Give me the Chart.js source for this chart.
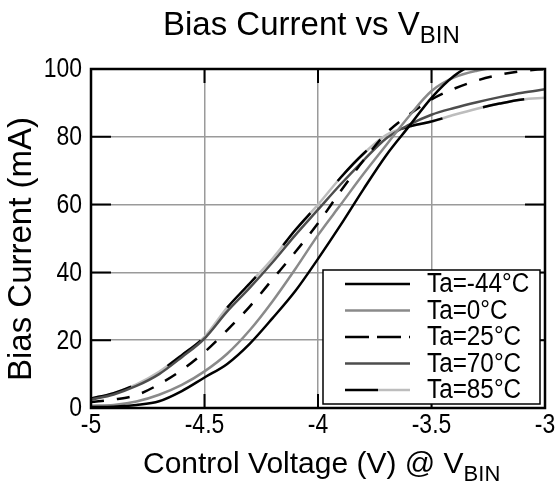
<!DOCTYPE html>
<html>
<head>
<meta charset="utf-8">
<script src="https://cdn.jsdelivr.net/npm/chart.js@4.4.0/dist/chart.umd.min.js"></script>
<style>
    html, body { margin: 0; padding: 0; background: #fff; }
    #wrap { width: 557px; height: 488px; }
</style>
</head>
<body>
<div id="wrap"><canvas id="ChartBias"></canvas></div>
<script>
// control voltage (V) at V_BIN
var voltage = [-5.0, -4.9, -4.8, -4.7, -4.6, -4.5, -4.4, -4.3, -4.2, -4.1, -4.0,
               -3.9, -3.8, -3.7, -3.6, -3.5, -3.4, -3.3, -3.2, -3.1, -3.0];

// bias current (mA) per temperature
var taMinus44 = [0.3, 0.4, 0.9, 2.0, 5.0, 9.0, 13.0, 19.0, 26.5, 34.5, 44.0,
                 54.0, 64.5, 74.5, 83.0, 91.5, 98.0, 102.0, 104.5, null, null];
var ta0 = [0.7, 0.9, 1.9, 3.9, 6.8, 10.8, 16.0, 23.0, 31.5, 41.0, 51.0,
           60.0, 69.0, 77.5, 86.0, 93.5, 97.5, 99.5, 100.6, 101.5, 102.0];
var ta25 = [1.8, 2.5, 3.8, 7.0, 11.2, 16.5, 23.0, 30.0, 38.0, 46.0, 54.5,
            64.0, 73.0, 81.0, 86.5, 91.0, 94.2, 96.6, 98.3, 99.4, 100.0];
var ta70 = [2.5, 4.0, 6.5, 10.0, 15.0, 20.5, 28.5, 35.5, 43.0, 51.0, 58.5,
            66.0, 73.0, 79.5, 83.5, 86.5, 88.5, 90.2, 91.7, 93.0, 94.0];
var ta85 = [2.8, 4.4, 7.0, 10.7, 15.6, 21.0, 29.6, 36.8, 44.1, 52.5, 60.0,
            68.0, 75.0, 80.5, 83.0, 84.5, 86.5, 88.3, 89.8, 91.0, 91.5];

var seriesLabels = ['Ta=-44°C', 'Ta=0°C', 'Ta=25°C', 'Ta=70°C', 'Ta=85°C'];
var xTicks = [-5, -4.5, -4, -3.5, -3];
var yTicks = [0, 20, 40, 60, 80, 100];

var FONT = '"Liberation Sans", Arial, sans-serif';

function toPoints(values) {
    var pts = [];
    for (var i = 0; i < voltage.length; i++) {
        pts.push({ x: voltage[i], y: values[i] });
    }
    return pts;
}

function makeSet(label, values, color, dash) {
    return {
        label: label,
        data: toPoints(values),
        borderColor: color,
        borderWidth: 2.5,
        borderDash: dash || [],
        pointRadius: 0,
        fill: false,
        cubicInterpolationMode: 'monotone',
        spanGaps: false
    };
}

// text squeezed sideways, the source uses a narrow face
function narrowText(ctx, text, x, y, size, align, squeeze) {
    ctx.save();
    ctx.font = size + 'px ' + FONT;
    ctx.textAlign = align;
    ctx.textBaseline = 'middle';
    ctx.translate(x, y);
    ctx.scale(squeeze, 1);
    ctx.fillText(text, 0, 0);
    ctx.restore();
}

function drawSubText(ctx, main, sub, x, baseline, size, subSize) {
    ctx.textAlign = 'left';
    ctx.textBaseline = 'alphabetic';
    ctx.font = size + 'px ' + FONT;
    var w1 = ctx.measureText(main).width;
    ctx.fillText(main, x, baseline);
    ctx.font = subSize + 'px ' + FONT;
    ctx.fillText(sub, x + w1, baseline + size * 0.25);
}

var decorPlugin = {
    id: 'decor',
    afterDraw: function (chart) {
        var ctx = chart.ctx;
        var a = chart.chartArea;
        var xs = chart.scales.x;
        var ys = chart.scales.y;
        ctx.save();
        ctx.fillStyle = '#000';
        ctx.strokeStyle = '#000';

        // inward ticks on all four sides
        ctx.lineWidth = 2;
        ctx.beginPath();
        xTicks.forEach(function (v) {
            var p = xs.getPixelForValue(v);
            ctx.moveTo(p, a.bottom); ctx.lineTo(p, a.bottom - 14);
            ctx.moveTo(p, a.top); ctx.lineTo(p, a.top + 14);
        });
        yTicks.forEach(function (v) {
            var p = ys.getPixelForValue(v);
            ctx.moveTo(a.left, p); ctx.lineTo(a.left + 20, p);
            ctx.moveTo(a.right, p); ctx.lineTo(a.right - 20, p);
        });
        ctx.stroke();

        // frame
        ctx.lineWidth = 2.5;
        ctx.strokeRect(a.left, a.top, a.right - a.left, a.bottom - a.top);

        // tick labels
        xTicks.forEach(function (v) {
            narrowText(ctx, String(v), xs.getPixelForValue(v), a.bottom + 18, 27, 'center', 0.85);
        });
        yTicks.forEach(function (v) {
            narrowText(ctx, String(v), a.left - 9, ys.getPixelForValue(v) + 1, 27, 'right', 0.85);
        });

        // legend
        var lx = a.right - 222, ly = a.top + 201, lw = 217, lh = 134;
        ctx.fillStyle = '#fff';
        ctx.fillRect(lx, ly, lw, lh);
        ctx.lineWidth = 1.5;
        ctx.strokeRect(lx, ly, lw, lh);
        var styles = [
            { c: '#000', d: [] },
            { c: '#8a8a8a', d: [] },
            { c: '#000', d: [24, 8] },
            { c: '#4d4d4d', d: [] },
            { c: '#000', d: [], split: '#bdbdbd' }
        ];
        for (var i = 0; i < seriesLabels.length; i++) {
            var ry = ly + 14 + i * 26.5;
            var s = styles[i];
            ctx.lineWidth = 2.5;
            ctx.setLineDash(s.d);
            ctx.strokeStyle = s.c;
            ctx.beginPath();
            ctx.moveTo(lx + 22, ry);
            ctx.lineTo(s.split ? lx + 55 : lx + 87, ry);
            ctx.stroke();
            if (s.split) {
                ctx.strokeStyle = s.split;
                ctx.beginPath();
                ctx.moveTo(lx + 55, ry);
                ctx.lineTo(lx + 87, ry);
                ctx.stroke();
            }
            ctx.setLineDash([]);
            ctx.fillStyle = '#000';
            narrowText(ctx, seriesLabels[i], lx + 104, ry + 1, 27, 'left', 0.9);
        }

        // titles
        ctx.fillStyle = '#000';
        drawSubText(ctx, 'Bias Current vs V', 'BIN', 163, 35, 33, 24);
        drawSubText(ctx, 'Control Voltage (V) @ V', 'BIN', 143, 473, 30, 22);

        ctx.save();
        ctx.translate(22, 249);
        ctx.rotate(-Math.PI / 2);
        ctx.font = '33px ' + FONT;
        ctx.textAlign = 'center';
        ctx.textBaseline = 'middle';
        ctx.fillText('Bias Current (mA)', 0, 0);
        ctx.restore();

        ctx.restore();
    }
};

function CreateChart() {
    var datasets = [
        makeSet(seriesLabels[0], taMinus44, '#000000'),
        makeSet(seriesLabels[1], ta0, '#8a8a8a'),
        makeSet(seriesLabels[2], ta25, '#000000', [13, 13]),
        makeSet(seriesLabels[3], ta70, '#4d4d4d'),
        makeSet(seriesLabels[4], ta85, '#000000', [42, 42]),
        makeSet(seriesLabels[4], ta85, '#bdbdbd')
    ];

    var ctx = document.getElementById('ChartBias').getContext('2d');
    var chart = new Chart(ctx, {
        type: 'line',
        data: { datasets: datasets },
        options: {
            responsive: true,
            maintainAspectRatio: false,
            animation: false,
            layout: { padding: { left: 0, right: 12, top: 69, bottom: 0 } },
            plugins: {
                legend: { display: false },
                title: { display: false },
                tooltip: { enabled: false }
            },
            scales: {
                x: {
                    type: 'linear',
                    min: -5,
                    max: -3,
                    afterBuildTicks: function (axis) {
                        axis.ticks = xTicks.map(function (v) { return { value: v }; });
                    },
                    afterFit: function (axis) { axis.height = 80; },
                    ticks: { display: false },
                    grid: { color: '#9a9a9a', lineWidth: 1.5, drawTicks: false },
                    border: { display: false }
                },
                y: {
                    min: 0,
                    max: 100,
                    afterBuildTicks: function (axis) {
                        axis.ticks = yTicks.map(function (v) { return { value: v }; });
                    },
                    afterFit: function (axis) { axis.width = 91; },
                    ticks: { display: false },
                    grid: { color: '#9a9a9a', lineWidth: 1.5, drawTicks: false },
                    border: { display: false }
                }
            }
        },
        plugins: [decorPlugin]
    });
}

CreateChart();
</script>
</body>
</html>
